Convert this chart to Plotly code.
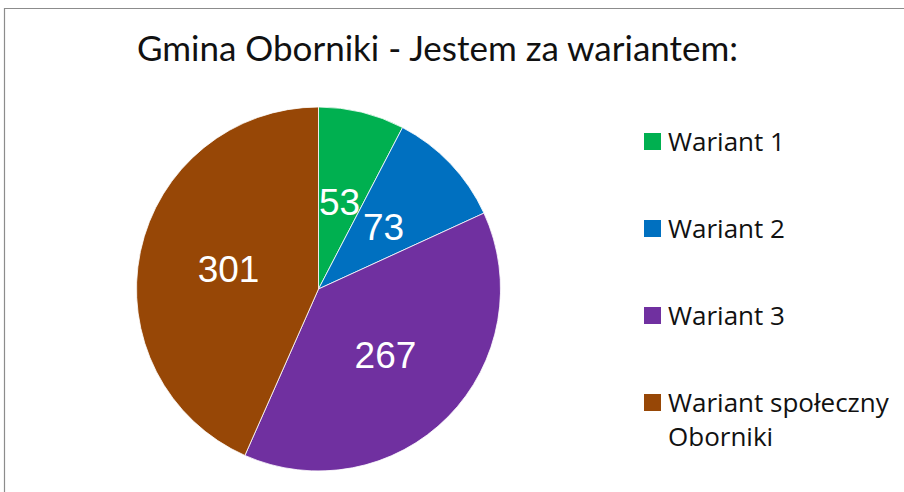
import math
import plotly.graph_objects as go

# Data
labels = ["Wariant 1", "Wariant 2", "Wariant 3", "Wariant społeczny<br>Oborniki"]
values = [53, 73, 267, 301]
colors = ["#00B050", "#0070C0", "#7030A0", "#974706"]
title_text = "Gmina Oborniki - Jestem za wariantem:"

W, H = 904, 492
LABEL_FONT = dict(family="Liberation Sans Narrow, Arial Narrow, sans-serif", size=37, color="white")

def px_x(x):
    return x / W

def px_y(y):
    return 1 - y / H

# pie geometry (pixels)
cx, cy, R = 318.5, 289.0, 182.0
total = sum(values)
small = [v / total < 0.15 for v in values]  # small slices: label placed mid-radius like the source

fig = go.Figure()
fig.add_trace(go.Pie(
    labels=labels,
    values=values,
    marker=dict(colors=colors, line=dict(color="white", width=0.8)),
    sort=False,
    direction="clockwise",
    rotation=0,
    texttemplate=["" if s else "%{value}" for s in small],
    textposition="inside",
    insidetextorientation="horizontal",
    textfont=LABEL_FONT,
    showlegend=False,
    hoverinfo="label+value",
    domain=dict(x=[px_x(cx - R), px_x(cx + R)], y=[px_y(cy + R), px_y(cy - R)]),
))

shapes = []
annotations = []

# value labels of the narrow slices, at half radius along the slice bisector
cum = 0.0
for v, s in zip(values, small):
    mid = (cum + v / 2) / total * 2 * math.pi
    cum += v
    if s:
        lx = cx + 0.49 * R * math.sin(mid)
        ly = cy - 0.49 * R * math.cos(mid)
        annotations.append(dict(xref="paper", yref="paper", x=px_x(lx), y=px_y(ly),
                                xanchor="center", yanchor="middle", text=str(v),
                                showarrow=False, font=LABEL_FONT))

# outer frame
shapes.append(dict(type="rect", xref="paper", yref="paper",
                   x0=px_x(4.5), x1=1.05, y0=-0.05, y1=px_y(8.5),
                   line=dict(color="#8c8c8c", width=1.2), fillcolor="rgba(0,0,0,0)"))

# legend drawn from the data arrays
sq = 17
y0c, gap = 141.5, 87
for i, (lab, col) in enumerate(zip(labels, colors)):
    yc = y0c + i * gap
    shapes.append(dict(type="rect", xref="paper", yref="paper",
                       x0=px_x(644), x1=px_x(644 + sq),
                       y0=px_y(yc + sq / 2), y1=px_y(yc - sq / 2),
                       line=dict(width=0), fillcolor=col))
    annotations.append(dict(xref="paper", yref="paper", x=px_x(666), y=px_y(yc - 21),
                            xanchor="left", yanchor="top", align="left",
                            text=lab, showarrow=False,
                            font=dict(family="Open Sans, sans-serif", size=26, color="#111111")))

fig.update_layout(
    width=W, height=H,
    margin=dict(l=0, r=0, t=0, b=0),
    paper_bgcolor="white",
    plot_bgcolor="white",
    title=dict(text=title_text, x=px_x(437.5), xanchor="center", y=px_y(49), yanchor="middle",
               font=dict(family="Lato, sans-serif", size=35, color="#111111")),
    shapes=shapes,
    annotations=annotations,
)

fig.write_html("out.html", config={"displayModeBar": False},
               post_script="document.body.style.margin='0';")
